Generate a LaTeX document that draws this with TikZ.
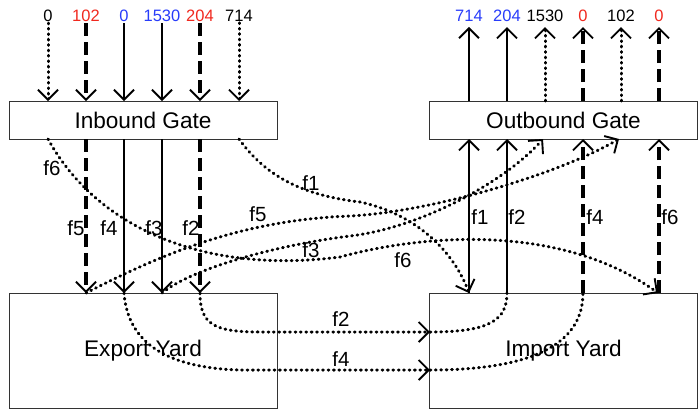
\documentclass[tikz,border=0pt]{standalone}
\usepackage{fontspec}
\setmainfont{Liberation Sans}
\usetikzlibrary{arrows.meta}
\definecolor{myred}{RGB}{240,40,30}
\definecolor{myblue}{RGB}{40,60,250}
\begin{document}
\begin{tikzpicture}[x=1pt,y=-1pt,
  >={Straight Barb[length=10pt,width=20pt,line width=1.9pt]},
  box/.style={draw=black!80,line width=1pt,inner sep=0pt,minimum width=268pt,font=\fontsize{22.6}{26}\selectfont},
  solidln/.style={line width=1.4pt,->},
  dashln/.style={line width=3.4pt,dash pattern=on 13pt off 6pt,->},
  dotln/.style={line width=3pt,dash pattern=on 0.8pt off 4.6pt,line cap=round,->},
  num/.style={font=\fontsize{16.5}{19}\selectfont,inner sep=1pt},
  lab/.style={font=\fontsize{20.5}{24}\selectfont,inner sep=0pt}]
\useasboundingbox (0,0) rectangle (698,410);
% boxes
\node[box,minimum height=38pt] (ig) at (143,120) {Inbound Gate};
\node[box,minimum height=38pt] (og) at (563.5,120) {Outbound Gate};
\node[box,minimum height=115pt] (ey) at (143,350.5) {Export Yard};
\node[box,minimum height=115pt] (iy) at (563.5,350.5) {Import Yard};
% coordinates on box borders
\foreach \n/\x in {1/48,2/86,3/124,4/162,5/200,6/239}{
  \coordinate (it\n) at (\x,101);
  \coordinate (ib\n) at (\x,139);
  \coordinate (et\n) at (\x,293);
}
\foreach \n/\x in {1/469,2/507,3/545,4/583,5/621,6/659}{
  \coordinate (ot\n) at (\x,101);
  \coordinate (ob\n) at (\x,139);
  \coordinate (yt\n) at (\x,293);
}
\coordinate (ob5c) at (619,139);
\coordinate (ob3c) at (543,139);
\coordinate (yt6c) at (658,293);
\coordinate (iyl2) at (430,332);
\coordinate (iyl4) at (430,370);
% inbound numbers
\node[num] (i1) at (48,16) {0};
\node[num,text=myred] (i2) at (86,16) {102};
\node[num,text=myblue] (i3) at (124,16) {0};
\node[num,text=myblue] (i4) at (162,16) {1530};
\node[num,text=myred] (i5) at (200,16) {204};
\node[num] (i6) at (239,16) {714};
\draw[dotln] (i1.south) -- (it1);
\draw[dashln] (i2.south) -- (it2);
\draw[solidln] (i3.south) -- (it3);
\draw[solidln] (i4.south) -- (it4);
\draw[dashln] (i5.south) -- (it5);
\draw[dotln] (i6.south) -- (it6);
% outbound numbers
\node[num,text=myblue] (o1) at (469,16) {714};
\node[num,text=myblue] (o2) at (507,16) {204};
\node[num] (o3) at (545,16) {1530};
\node[num,text=myred] (o4) at (583,16) {0};
\node[num] (o5) at (621,16) {102};
\node[num,text=myred] (o6) at (659,16) {0};
\draw[solidln,shorten >=4pt] (ot1) -- (o1.south);
\draw[solidln,shorten >=4pt] (ot2) -- (o2.south);
\draw[dotln,shorten >=4pt] (ot3) -- (o3.south);
\draw[dashln,shorten >=4pt] (ot4) -- (o4.south);
\draw[dotln,shorten >=4pt] (ot5) -- (o5.south);
\draw[dashln,shorten >=4pt] (ot6) -- (o6.south);
% inbound -> export verticals
\draw[dashln] (ib2) -- (et2);
\draw[solidln] (ib3) -- (et3);
\draw[solidln] (ib4) -- (et4);
\draw[dashln] (ib5) -- (et5);
% import -> outbound verticals
\draw[solidln] (yt1) -- (ob1);
\draw[solidln] (yt2) -- (ob2);
\draw[dashln] (yt4) -- (ob4);
\draw[dashln] (yt6) -- (ob6);
% curves
\draw[dotln] (ib1) .. controls (95,225) and (200,275) .. (340,257) .. controls (420,235) and (560,222) .. (yt6c);
\draw[dotln] (ib6) .. controls (265,175) and (300,195) .. (360,202) .. controls (420,215) and (455,255) .. (yt1);
\draw[dotln] (et2) .. controls (160,255) and (240,220) .. (350,216) .. controls (430,212) and (557,175) .. (ob5c);
\draw[dotln] (et4) .. controls (190,270) and (270,246) .. (350,236) .. controls (420,228) and (505,182) .. (ob3c);
\draw[dotln] (et5) .. controls (200,325) and (215,332) .. (260,332) -- (iyl2);
\draw[dotln,-] (iyl2) .. controls (490,332) and (507,320) .. (yt2);
\draw[dotln] (et3) .. controls (128,345) and (170,368) .. (240,370) -- (iyl4);
\draw[dotln,-] (iyl4) .. controls (540,370) and (583,340) .. (yt4);
% labels
\node[lab] (l6a) at (52,168) {f6};
\node[lab] (l5a) at (76,228) {f5};
\node[lab] (l4a) at (109,228) {f4};
\node[lab] (l3a) at (154,228) {f3};
\node[lab] (l2a) at (191,228) {f2};
\node[lab] (l1m) at (311,183) {f1};
\node[lab] (l5m) at (258,214) {f5};
\node[lab] (l3m) at (311,250) {f3};
\node[lab] (l6m) at (403,260) {f6};
\node[lab] (l1b) at (480,217) {f1};
\node[lab] (l2b) at (517,217) {f2};
\node[lab] (l4b) at (595,217) {f4};
\node[lab] (l6b) at (670,217) {f6};
\node[lab] (l2c) at (341,319) {f2};
\node[lab] (l4c) at (341,359) {f4};
\end{tikzpicture}
\end{document}
